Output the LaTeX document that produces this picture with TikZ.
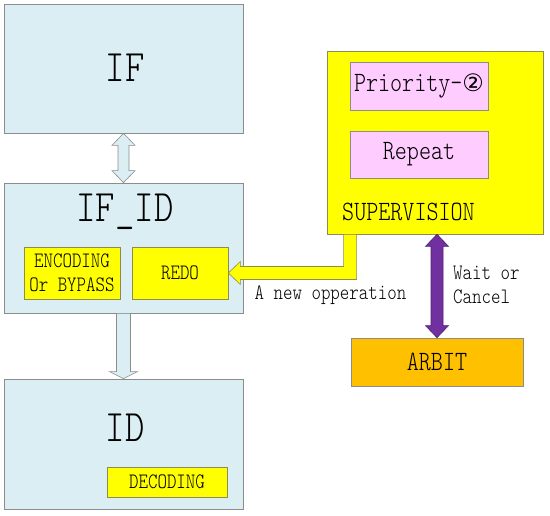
\documentclass[tikz,border=0pt]{standalone}
\usepackage{fontspec}
\setmainfont{lmmonolt10-regular.otf}[FakeStretch=0.82]
\newfontfamily\circfont{DejaVu Sans}
\usetikzlibrary{calc}
\definecolor{lblue}{HTML}{DAEEF3}
\definecolor{bgray}{HTML}{8C8C8C}
\definecolor{yel}{HTML}{FFFF00}
\definecolor{yelborder}{HTML}{8C8C50}
\definecolor{pinkf}{HTML}{FFCCFF}
\definecolor{orangef}{HTML}{FFC000}
\definecolor{purplef}{HTML}{7030A0}
\definecolor{purpled}{HTML}{4E1F73}
\newcommand\szbig{\fontsize{45}{48}\selectfont}
\newcommand\szmid{\fontsize{28}{30}\selectfont}
\newcommand\szsmall{\fontsize{22}{23.5}\selectfont}
\begin{document}
\begin{tikzpicture}[x=1pt,y=-1pt,
  box/.style={rectangle, draw=bgray, line width=0.7pt, inner sep=0pt, align=center},
  bluebox/.style={box, fill=lblue},
  yelbox/.style={box, fill=yel, draw=yelborder},
  pinkbox/.style={box, fill=pinkf},
  orabox/.style={box, fill=orangef},
  txt/.style={inner sep=0pt, align=left},
  bluearrow/.style={fill=lblue, draw=bgray, line width=0.6pt, line join=miter},
  yelarrow/.style={fill=yel, draw=yelborder, line width=0.6pt, line join=miter},
  purarrow/.style={fill=purplef, draw=purpled, line width=0.6pt, line join=miter}]
\useasboundingbox (0,0) rectangle (550,516);
% left column
\node[bluebox, minimum width=239pt, minimum height=129pt] (if) at (123.5,68.5) {};
\node[txt, font=\szbig] (iflabel) at (125,68) {IF};
\node[bluebox, minimum width=239pt, minimum height=130pt] (ifid) at (123.5,248) {};
\node[txt, font=\szbig] (ifidlabel) at (125,212) {IF\_ID};
\node[yelbox, minimum width=96pt, minimum height=52pt, font=\szsmall] (enc) at (72,273) {ENCODING\\Or BYPASS};
\node[yelbox, minimum width=96pt, minimum height=52pt, font=\szsmall] (redo) at (180,273) {REDO};
\node[bluebox, minimum width=239pt, minimum height=130pt] (id) at (123.5,444) {};
\node[txt, font=\szbig] (idlabel) at (125,428) {ID};
\node[yelbox, minimum width=120pt, minimum height=30pt, font=\szsmall] (dec) at (167,482) {DECODING};
% right column
\node[yelbox, minimum width=216pt, minimum height=183pt] (sup) at (435,142.5) {};
\node[pinkbox, minimum width=138pt, minimum height=48pt, font=\szmid] (pri) at (419,86) {Priority-{\circfont\fontsize{24}{26}\selectfont ②}};
\node[pinkbox, minimum width=138pt, minimum height=47pt, font=\szmid] (rep) at (419,154.5) {Repeat};
\node[txt, anchor=west, font=\szmid] (suplabel) at (342,212) {SUPERVISION};
\node[orabox, minimum width=172pt, minimum height=48pt, font=\szmid] (arbit) at (437,362) {ARBIT};
% arrows
\draw[bluearrow] (if.south) -- ++(11.5,12) -- ++(-6,0) -- ($(ifid.north)+(5.5,-12)$) -- ++(6,0)
  -- (ifid.north) -- ++(-11.5,-12) -- ++(6,0) -- ($(if.south)+(-5.5,12)$) -- ++(-6,0) -- cycle;
\draw[bluearrow] ($(ifid.south)+(-7,0)$) -- ($(id.north)+(-7,-7)$) -- ++(-7,0) -- (id.north)
  -- ++(14,-7) -- ++(-7,0) -- ($(ifid.south)+(7,0)$) -- cycle;
\draw[yelarrow] ($(sup.south west)+(17,0)$) |- ($(redo.east)+(12,-6.5)$) -- ++(0,-5) -- (redo.east)
  -- ++(12,11.5) -- ++(0,-5) -| ($(sup.south west)+(30,0)$) -- cycle;
\coordinate (pt) at (arbit.north |- sup.south);
\draw[purarrow] (pt) -- ++(11.5,12) -- ++(-5.5,0) -- ($(arbit.north)+(6,-12)$) -- ++(5.5,0)
  -- (arbit.north) -- ++(-11.5,-12) -- ++(5.5,0) -- ($(pt)+(-6,12)$) -- ++(-5.5,0) -- cycle;
% labels
\node[txt, font=\szsmall] (newop) at (330.5,295) {A new opperation};
\node[txt, anchor=west, font=\szsmall] (wait) at (453,285) {Wait or\\Cancel};
\end{tikzpicture}
\end{document}
